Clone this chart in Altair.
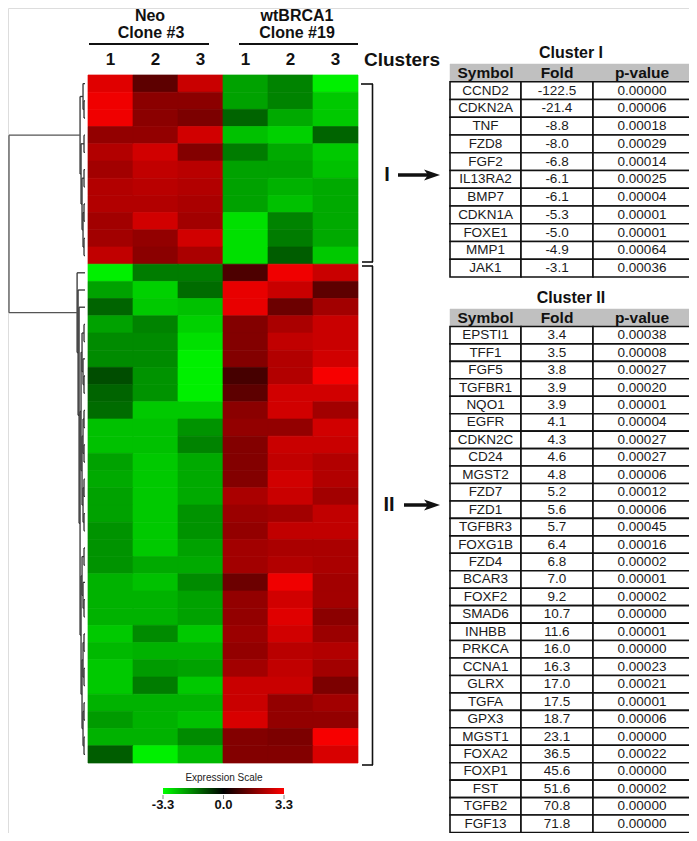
import altair as alt
import pandas as pd

# ---------------- data ----------------
sample_ids = ["Neo-1", "Neo-2", "Neo-3", "wtBRCA1-1", "wtBRCA1-2", "wtBRCA1-3"]
sample_labels = ["1", "2", "3", "1", "2", "3"]

# expression (log scale) per heat-map row, top -> bottom; columns Neo 1..3, wtBRCA1 1..3
heat = [
    [2.9, 1.2, 2.6, -2.1, -1.7, -3.1],
    [3.1, 1.8, 1.8, -2.1, -1.7, -2.6],
    [3.1, 1.8, 1.6, -1.3, -2.2, -2.6],
    [1.9, 1.9, 2.7, -2.5, -2.7, -1.3],
    [2.3, 2.7, 1.7, -1.6, -2.2, -2.6],
    [2.1, 2.5, 2.4, -2.1, -2.1, -2.5],
    [2.3, 2.4, 2.3, -2.1, -2.3, -2.2],
    [2.3, 2.3, 2.2, -2.1, -2.5, -2.2],
    [2.1, 2.7, 2.1, -2.9, -1.7, -2.2],
    [2.1, 1.9, 2.7, -2.9, -1.6, -2.2],
    [2.5, 1.8, 2.2, -2.9, -1.2, -2.6],
    [-3.1, -1.6, -1.6, 1.0, 3.1, 2.6],
    [-2.1, -2.7, -1.4, 3.0, 2.6, 1.2],
    [-1.3, -2.6, -2.5, 3.0, 1.4, 2.1],
    [-2.1, -1.7, -2.7, 1.7, 2.2, 2.6],
    [-1.8, -1.8, -2.9, 1.7, 2.5, 2.6],
    [-1.8, -1.8, -3.1, 1.7, 2.3, 2.7],
    [-1.0, -1.9, -3.1, 0.9, 2.3, 3.2],
    [-1.3, -1.9, -3.1, 1.2, 2.7, 2.7],
    [-1.4, -2.6, -2.6, 1.8, 2.7, 2.1],
    [-2.5, -2.5, -1.9, 1.9, 1.9, 2.7],
    [-2.5, -2.5, -1.7, 1.7, 2.6, 2.6],
    [-2.1, -2.6, -2.2, 1.7, 2.5, 2.3],
    [-2.2, -2.6, -2.2, 1.7, 2.7, 2.3],
    [-2.1, -2.6, -2.2, 2.2, 2.6, 2.1],
    [-2.1, -2.6, -1.9, 2.0, 2.1, 2.5],
    [-1.9, -2.6, -1.9, 1.9, 2.5, 2.5],
    [-1.9, -2.6, -2.1, 2.1, 2.2, 2.2],
    [-1.9, -2.2, -2.2, 2.1, 2.3, 2.2],
    [-2.3, -2.5, -1.8, 1.4, 3.1, 2.1],
    [-2.3, -2.3, -2.1, 1.9, 2.7, 2.1],
    [-2.3, -2.3, -2.1, 1.9, 2.9, 1.8],
    [-2.6, -1.8, -2.6, 2.0, 2.7, 2.0],
    [-2.4, -2.3, -2.3, 1.9, 2.4, 2.3],
    [-2.6, -2.0, -2.1, 2.1, 2.5, 2.1],
    [-2.6, -1.6, -2.6, 2.6, 2.6, 1.6],
    [-2.3, -2.3, -2.3, 2.6, 1.9, 2.1],
    [-2.0, -2.3, -2.5, 2.8, 1.9, 1.9],
    [-2.3, -2.3, -1.8, 1.7, 1.6, 3.2],
    [-1.2, -3.1, -2.4, 1.7, 1.7, 2.8],
]

scale_values = [-3.3, 0.0, 3.3]

# dendrogram topology (leaf = heat-map row index)
tree_I = [[0, [1, 2]], [[3, 4], [[5, 6], [[7, 8], [9, 10]]]]]
tree_II_D1 = [[[14, 15], [16, [17, 18]]], [[[19, 20], [21, 22]], [[23, 24], [25, 26]]]]
tree_II_D2 = [[[27, 28], [29, [30, 31]]], [[[32, 33], [34, 35]], [[36, 37], [38, 39]]]]
tree_II = [11, [12, [13, [tree_II_D1, tree_II_D2]]]]

cluster1_symbols = ["CCND2", "CDKN2A", "TNF", "FZD8", "FGF2", "IL13RA2", "BMP7",
                    "CDKN1A", "FOXE1", "MMP1", "JAK1"]
cluster1_fold = [-122.5, -21.4, -8.8, -8.0, -6.8, -6.1, -6.1, -5.3, -5.0, -4.9, -3.1]
cluster1_p = [0.00000, 0.00006, 0.00018, 0.00029, 0.00014, 0.00025, 0.00004,
              0.00001, 0.00001, 0.00064, 0.00036]

cluster2_symbols = ["EPSTI1", "TFF1", "FGF5", "TGFBR1", "NQO1", "EGFR", "CDKN2C", "CD24",
                    "MGST2", "FZD7", "FZD1", "TGFBR3", "FOXG1B", "FZD4", "BCAR3", "FOXF2",
                    "SMAD6", "INHBB", "PRKCA", "CCNA1", "GLRX", "TGFA", "GPX3", "MGST1",
                    "FOXA2", "FOXP1", "FST", "TGFB2", "FGF13"]
cluster2_fold = [3.4, 3.5, 3.8, 3.9, 3.9, 4.1, 4.3, 4.6, 4.8, 5.2, 5.6, 5.7, 6.4, 6.8, 7.0,
                 9.2, 10.7, 11.6, 16.0, 16.3, 17.0, 17.5, 18.7, 23.1, 36.5, 45.6, 51.6,
                 70.8, 71.8]
cluster2_p = [0.00038, 0.00008, 0.00027, 0.00020, 0.00001, 0.00004, 0.00027, 0.00027,
              0.00006, 0.00012, 0.00006, 0.00045, 0.00016, 0.00002, 0.00001, 0.00002,
              0.00000, 0.00001, 0.00000, 0.00023, 0.00021, 0.00001, 0.00006, 0.00000,
              0.00022, 0.00000, 0.00002, 0.00000, 0.00000]

table_header = ["Symbol", "Fold", "p-value"]

# ---------------- layout (page pixels) ----------------
M = 8
W, H = 697 - 2 * M, 841 - 2 * M
FONT = "Liberation Sans"


def P(v):
    return v - M


n_rows = len(heat)
hx = alt.Scale(domain=[0, 6], range=[P(88), P(358)], nice=False, zero=False)
hy = alt.Scale(domain=[0, n_rows], range=[P(75), P(763)], nice=False, zero=False)
color_scale = alt.Scale(domain=scale_values, range=["#00ff00", "#000000", "#ff0000"],
                        interpolate="rgb", clamp=True)

layers = []

# ---- heat map ----
hm = pd.DataFrame([dict(r=r, r2=r + 1, c=c, c2=c + 1, v=heat[r][c])
                   for r in range(n_rows) for c in range(6)])
layers.append(
    alt.Chart(hm).mark_rect(strokeWidth=0.7).encode(
        x=alt.X("c:Q", scale=hx, axis=None), x2="c2",
        y=alt.Y("r:Q", scale=hy, axis=None), y2="r2",
        color=alt.Color("v:Q", scale=color_scale, legend=None),
        stroke=alt.Stroke("v:Q", scale=color_scale, legend=None),
    )
)

# ---- colour legend (gradient of the same colour scale) ----
leg_df = pd.DataFrame(dict(v=scale_values, t=[f"{v:.1f}" for v in scale_values]))
layers.append(
    alt.Chart(leg_df).mark_rect().encode(
        x=alt.value(0), x2=alt.value(0), y=alt.value(0), y2=alt.value(0),
        color=alt.Color("v:Q", scale=color_scale, legend=alt.Legend(
            type="gradient", orient="none", legendX=P(163), legendY=P(773),
            direction="horizontal",
            title="Expression Scale", titleFontSize=10, titleFontWeight="normal",
            titleColor="#222222", titleAnchor="middle", titlePadding=5, titleFont=FONT,
            gradientLength=121, gradientThickness=6, gradientStrokeWidth=0,
            values=scale_values, labelOpacity=0, labelFontSize=1)),
    )
)

# legend tick marks and labels (positioned through the legend value scale)
leg_scale = alt.Scale(domain=[-3.3, 3.3], range=[P(163), P(284)], nice=False, zero=False)
layers.append(
    alt.Chart(leg_df).mark_rule(color="#888888", strokeWidth=1).encode(
        x=alt.X("v:Q", scale=leg_scale, axis=None),
        y=alt.value(P(795)), y2=alt.value(P(799)),
    )
)
layers.append(
    alt.Chart(leg_df).mark_text(fontSize=13, fontWeight="bold", color="#111111",
                                baseline="middle", align="center").encode(
        x=alt.X("v:Q", scale=leg_scale, axis=None), y=alt.value(P(805)), text="t:N")
)

# column numbers
collab = pd.DataFrame(dict(c=[i + 0.5 for i in range(6)], t=sample_labels))
layers.append(
    alt.Chart(collab).mark_text(fontSize=17, fontWeight="bold", color="#111111",
                                baseline="middle").encode(
        x=alt.X("c:Q", scale=hx, axis=None), y=alt.value(P(60)), text="t:N")
)

# ---- dendrogram ----
STEP = 0.13
ROOT_H = 10.0
segs = []


def place(node):
    if isinstance(node, int):
        return node + 0.5, 0.0
    placed = [place(ch) for ch in node]
    ys = [p[0] for p in placed]
    hs = [p[1] for p in placed]
    h = max(hs) + STEP
    for y, hc in zip(ys, hs):
        segs.append(dict(h1=hc, h2=h, y1=y, y2=y, root=False))
    segs.append(dict(h1=h, h2=h, y1=min(ys), y2=max(ys), root=False))
    return (ys[0] + ys[-1]) / 2, h


yI, hI = place(tree_I)
yII, hII = place(tree_II)
for y, hc in ((yI, hI), (yII, hII)):
    segs.append(dict(h1=hc, h2=ROOT_H, y1=y, y2=y, root=True))
segs.append(dict(h1=ROOT_H, h2=ROOT_H, y1=yI, y2=yII, root=True))
dg = pd.DataFrame(segs)
dx = alt.Scale(domain=[0, ROOT_H], range=[P(85), P(9)], nice=False, zero=False)
dy = alt.Scale(domain=[0, n_rows], range=[P(75), P(763)], nice=False, zero=False)
layers.append(
    alt.Chart(dg).mark_rule(strokeWidth=1.3).encode(
        x=alt.X("h1:Q", scale=dx, axis=None), x2="h2",
        y=alt.Y("y1:Q", scale=dy, axis=None), y2="y2",
        color=alt.condition("datum.root", alt.value("#555555"), alt.value("#333333")),
    )
)

# ---- annotation lines (underlines, brackets, arrow shafts) ----
lines = pd.DataFrame([
    dict(x=89, x2=209, y=44, y2=44, w=2.0),
    dict(x=239, x2=358, y=44, y2=44, w=2.0),
    dict(x=361, x2=373, y=84, y2=84, w=1.6),
    dict(x=372.5, x2=372.5, y=84, y2=262, w=1.6),
    dict(x=373, x2=362, y=262, y2=262, w=1.6),
    dict(x=362, x2=373, y=266, y2=266, w=1.6),
    dict(x=372.5, x2=372.5, y=266, y2=765, w=1.6),
    dict(x=373, x2=362, y=765, y2=765, w=1.6),
    dict(x=398, x2=428, y=175, y2=175, w=3.5),
    dict(x=404, x2=428, y=505, y2=505, w=3.5),
])
for col in ("x", "x2", "y", "y2"):
    lines[col] = lines[col] - M
layers.append(
    alt.Chart(lines).mark_rule(color="#111111").encode(
        x=alt.X("x:Q", scale=None), x2="x2",
        y=alt.Y("y:Q", scale=None), y2="y2",
        strokeWidth=alt.StrokeWidth("w:Q", scale=None, legend=None),
    )
)

# arrow heads
heads = pd.DataFrame(dict(x=[P(432), P(432)], y=[P(175), P(505)]))
layers.append(
    alt.Chart(heads).mark_point(shape="M-1,-0.7L1,0L-1,0.7L-0.5,0Z", filled=True,
                                size=256, color="#111111", opacity=1).encode(
        x=alt.X("x:Q", scale=None), y=alt.Y("y:Q", scale=None))
)

# ---- free text ----
def text_layer(rows, size, weight="bold", color="#111111"):
    df = pd.DataFrame(rows, columns=["t", "x", "y"])
    df["x"] = df["x"] - M
    df["y"] = df["y"] - M
    return alt.Chart(df).mark_text(fontSize=size, fontWeight=weight, color=color,
                                   baseline="middle", align="center").encode(
        x=alt.X("x:Q", scale=None), y=alt.Y("y:Q", scale=None), text="t:N")


layers.append(text_layer([("Neo", 150, 16), ("Clone #3", 151, 33),
                          ("wtBRCA1", 297, 16), ("Clone #19", 297, 33)], 16))
layers.append(text_layer([("Clusters", 402, 60)], 19))
layers.append(text_layer([("I", 387, 175), ("II", 389, 505)], 20))
layers.append(text_layer([("Cluster I", 571, 53), ("Cluster II", 571, 298)], 16))


# ---- tables ----
def table_layers(symbols, folds, pvals, top, bottom):
    n = len(symbols)
    rows = []
    for j, h in enumerate(table_header):
        rows.append(dict(r=0, c=j, t=h, hdr=True))
    for i, (s, f, p) in enumerate(zip(symbols, folds, pvals)):
        for j, t in enumerate([s, f"{f:.1f}", f"{p:.5f}"]):
            rows.append(dict(r=i + 1, c=j, t=t, hdr=False))
    df = pd.DataFrame(rows)
    df["r2"] = df["r"] + 1
    df["c2"] = df["c"] + 1
    df["rm"] = df["r"] + 0.5
    df["cm"] = df["c"] + 0.5
    xs = alt.Scale(domain=[0, 1, 2, 3], range=[P(450), P(521), P(593), P(691)],
                   nice=False, zero=False)
    ys = alt.Scale(domain=[0, n + 1], range=[P(top), P(bottom)], nice=False, zero=False)
    base = alt.Chart(df)
    enc_rect = dict(x=alt.X("c:Q", scale=xs, axis=None), x2="c2",
                    y=alt.Y("r:Q", scale=ys, axis=None), y2="r2")
    enc_text = dict(x=alt.X("cm:Q", scale=xs, axis=None),
                    y=alt.Y("rm:Q", scale=ys, axis=None), text="t:N")
    return [
        base.transform_filter("datum.hdr").mark_rect(fill="#c0c0c0", stroke="#c0c0c0",
                                                     strokeWidth=0.5).encode(**enc_rect),
        base.transform_filter("!datum.hdr").mark_rect(fill="white", stroke="#111111",
                                                      strokeWidth=1.6).encode(**enc_rect),
        base.transform_filter("datum.hdr").mark_text(fontSize=15.5, fontWeight="bold",
                                                     color="#111111").encode(**enc_text),
        base.transform_filter("!datum.hdr").mark_text(fontSize=13.5,
                                                      color="#1a1a1a").encode(**enc_text),
    ]


layers += table_layers(cluster1_symbols, cluster1_fold, cluster1_p, 64, 277)
layers += table_layers(cluster2_symbols, cluster2_fold, cluster2_p, 309, 832.5)

chart = alt.layer(*layers).resolve_scale(
    x="independent", y="independent", color="independent", stroke="independent"
).properties(
    width=W, height=H, padding=0, autosize=alt.AutoSizeParams(type="none")
).configure_view(strokeWidth=0).configure(font=FONT, background="white")

chart.save("out.html", embed_options={"renderer": "svg", "actions": False})
